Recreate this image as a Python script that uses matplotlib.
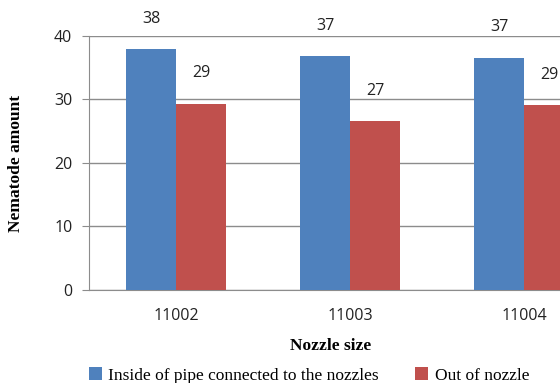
import matplotlib
matplotlib.use("Agg")
import matplotlib.pyplot as plt
import numpy as np

categories = ["11002", "11003", "11004"]
inside_pipe = [37.9, 36.8, 36.6]
out_of_nozzle = [29.3, 26.6, 29.1]
series_names = ["Inside of pipe connected to the nozzles", "Out of nozzle"]
y_ticks = [0, 10, 20, 30, 40]

blue = "#4F81BD"
red = "#C0504D"
grid_col = "#8C8C8C"

fig = plt.figure(figsize=(5.6, 3.83), dpi=100)
ax = fig.add_axes([0.159, 0.243, 0.932, 0.663])

x = np.arange(len(categories))
w = 0.287
b1 = ax.bar(x - w / 2, inside_pipe, width=w, color=blue, label=series_names[0], zorder=3)
b2 = ax.bar(x + w / 2, out_of_nozzle, width=w, color=red, label=series_names[1], zorder=3)

for bars, vals in ((b1, inside_pipe), (b2, out_of_nozzle)):
    for rect, v in zip(bars, vals):
        ax.annotate(f"{v:.0f}", (rect.get_x() + rect.get_width() / 2, v),
                    xytext=(0, 22), textcoords="offset points",
                    ha="center", va="center", fontsize=11.5,
                    family="Open Sans", color="#222222")

ax.set_xlim(-0.5, len(categories) - 0.5)
ax.set_ylim(0, 40)
ax.set_yticks(y_ticks)
ax.set_xticks(x)
ax.set_xticklabels(categories)
ax.yaxis.grid(True, color=grid_col, linewidth=1.0, zorder=0)
ax.set_axisbelow(True)

for s in ("top", "right"):
    ax.spines[s].set_visible(False)
ax.spines["left"].set_color(grid_col)
ax.spines["bottom"].set_color(grid_col)
ax.tick_params(axis="y", length=5, color=grid_col, labelsize=11.5, pad=7)
ax.tick_params(axis="x", length=0, labelsize=11.5, pad=13)
for lab in ax.get_xticklabels() + ax.get_yticklabels():
    lab.set_family("Open Sans")
    lab.set_color("#222222")

ax.set_ylabel("Nematode amount", family="Liberation Serif", fontweight="bold",
              fontsize=12.5)
ax.set_xlabel("Nozzle size", family="Liberation Serif", fontweight="bold",
              fontsize=12.5)
ax.xaxis.set_label_coords((331 - 89) / 522, -0.19)
ax.yaxis.set_label_coords(-0.124, 0.5)

fig.legend(handles=[b1, b2], loc="center", bbox_to_anchor=(0.552, 0.02),
           ncol=2, frameon=False, handlelength=0.75, handleheight=0.75,
           handletextpad=0.35, columnspacing=2.1,
           prop={"family": "Liberation Serif", "size": 12.5})

fig.savefig("out.png", dpi=100)
